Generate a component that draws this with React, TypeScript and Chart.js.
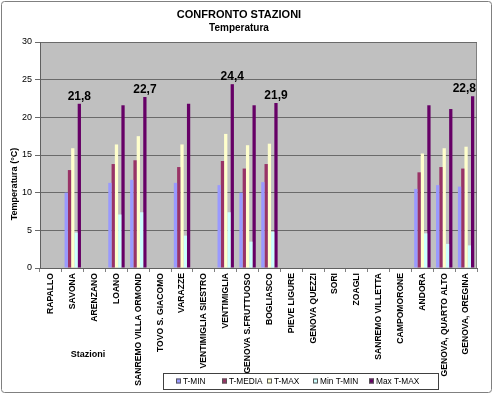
import React, { useEffect, useRef } from "react";
import { Chart, registerables } from "chart.js";

Chart.register(...registerables);

const stations = [
  "RAPALLO", "SAVONA", "ARENZANO", "LOANO", "SANREMO VILLA ORMOND", "TOVO S. GIACOMO",
  "VARAZZE", "VENTIMIGLIA SIESTRO", "VENTIMIGLIA", "GENOVA S.FRUTTUOSO", "BOGLIASCO",
  "PIEVE LIGURE", "GENOVA QUEZZI", "SORI", "ZOAGLI", "SANREMO VILLETTA", "CAMPOMORONE",
  "ANDORA", "GENOVA, QUARTO ALTO", "GENOVA, OREGINA",
];
const tMin = [null, 10.0, null, 11.3, 11.7, null, 11.3, null, 11.0, 10.0, 11.4, null, null, null, null, null, null, 10.5, 11.0, 10.8];
const tMedia = [null, 13.0, null, 13.8, 14.3, null, 13.4, null, 14.2, 13.2, 13.8, null, null, null, null, null, null, 12.7, 13.4, 13.2];
const tMax = [null, 15.9, null, 16.4, 17.5, null, 16.4, null, 17.8, 16.3, 16.5, null, null, null, null, null, null, 15.2, 15.9, 16.1];
const minTMin = [null, 4.7, null, 7.1, 7.4, null, 4.3, null, 7.4, 3.5, 4.8, null, null, null, null, null, null, 4.6, 3.2, 3.0];
const maxTMax = [null, 21.8, null, 21.6, 22.7, null, 21.8, null, 24.4, 21.6, 21.9, null, null, null, null, null, null, 21.6, 21.1, 22.8];
const labeledStations = ["SAVONA", "SANREMO VILLA ORMOND", "VENTIMIGLIA", "BOGLIASCO", "GENOVA, OREGINA"];
const seriesNames = ["T-MIN", "T-MEDIA", "T-MAX", "Min T-MIN", "Max T-MAX"];
const seriesColors = ["#9999FF", "#993366", "#FFFFCC", "#CCFFFF", "#660066"];
const yTicks = [0, 5, 10, 15, 20, 25, 30];

const FONT = "'Liberation Sans', Arial, sans-serif";

const decorPlugin = {
  id: "decor",
  beforeDraw(chart: any) {
    const { ctx, chartArea, width, height } = chart;
    ctx.save();
    ctx.fillStyle = "#FFFFFF";
    ctx.fillRect(0, 0, width, height);
    ctx.fillStyle = "#C0C0C0";
    ctx.fillRect(chartArea.left, chartArea.top, chartArea.right - chartArea.left, chartArea.bottom - chartArea.top);
    ctx.strokeStyle = "#808080";
    ctx.lineWidth = 1;
    ctx.strokeRect(chartArea.left + 0.5, chartArea.top + 0.5, chartArea.right - chartArea.left - 1, chartArea.bottom - chartArea.top);
    ctx.restore();
  },
  afterDraw(chart: any) {
    const { ctx, chartArea, width, height } = chart;
    ctx.save();
    // titles
    ctx.fillStyle = "#000";
    ctx.textAlign = "center";
    ctx.textBaseline = "middle";
    ctx.font = `bold 11px ${FONT}`;
    ctx.fillText("CONFRONTO STAZIONI", 239, 15);
    ctx.font = `bold 10px ${FONT}`;
    ctx.fillText("Temperatura", 239, 28);
    // y title
    ctx.save();
    ctx.translate(15, 184);
    ctx.rotate(-Math.PI / 2);
    ctx.font = `bold 9px ${FONT}`;
    ctx.fillText("Temperatura (°C)", 0, 0);
    ctx.restore();
    // data labels
    const meta = chart.getDatasetMeta(4);
    ctx.font = `bold 12px ${FONT}`;
    ctx.textBaseline = "alphabetic";
    stations.forEach((s, i) => {
      if (!labeledStations.includes(s)) return;
      const v = maxTMax[i];
      if (v == null) return;
      const bar = meta.data[i];
      const txt = v.toFixed(1).replace(".", ",");
      const w = ctx.measureText(txt).width;
      let x = bar.x;
      if (x + w / 2 > chartArea.right - 1) x = chartArea.right - 1 - w / 2;
      ctx.textAlign = "center";
      ctx.fillText(txt, x, bar.y - 4);
    });
    // x axis title
    ctx.font = `bold 9px ${FONT}`;
    ctx.textAlign = "center";
    ctx.textBaseline = "middle";
    ctx.fillText("Stazioni", 88, 355);
    // legend
    const lx = 163, ly = 373, lw = 275, lh = 16;
    ctx.fillStyle = "#FFFFFF";
    ctx.fillRect(lx, ly, lw, lh);
    ctx.strokeStyle = "#404040";
    ctx.lineWidth = 1;
    ctx.strokeRect(lx + 0.5, ly + 0.5, lw, lh);
    const markerX = [176, 222, 267, 313, 369];
    ctx.font = `8.3px ${FONT}`;
    ctx.textAlign = "left";
    ctx.textBaseline = "middle";
    seriesNames.forEach((n, k) => {
      const mx = markerX[k];
      const my = ly + lh / 2 + 0.5;
      ctx.fillStyle = seriesColors[k];
      ctx.fillRect(mx, my - 3, 5, 5);
      ctx.strokeStyle = "#555";
      ctx.strokeRect(mx + 0.5, my - 2.5, 4, 4);
      ctx.fillStyle = "#000";
      ctx.fillText(n, mx + 7, my);
    });
    // outer border
    ctx.strokeStyle = "#808080";
    ctx.lineWidth = 1;
    ctx.beginPath();
    (ctx as any).roundRect(1.5, 1.5, width - 3, height - 3, 3);
    ctx.stroke();
    ctx.restore();
  },
};

export default function App() {
  const ref = useRef<HTMLCanvasElement>(null);
  useEffect(() => {
    if (!ref.current) return;
    const series = [tMin, tMedia, tMax, minTMin, maxTMax];
    const chart = new Chart(ref.current, {
      type: "bar",
      data: {
        labels: stations,
        datasets: series.map((d, k) => ({
          label: seriesNames[k],
          data: d as any,
          backgroundColor: seriesColors[k],
          borderWidth: 0,
          categoryPercentage: 0.75,
          barPercentage: 1.0,
        })),
      },
      options: {
        animation: false,
        responsive: false,
        devicePixelRatio: 1,
        layout: { padding: { top: 42, right: 16, left: 0, bottom: 0 } },
        plugins: {
          legend: { display: false },
          title: { display: false },
          tooltip: { enabled: false },
        },
        scales: {
          x: {
            afterFit(scale: any) {
              scale.height = 126;
            },
            grid: {
              offset: true,
              drawOnChartArea: false,
              drawTicks: true,
              tickLength: 4,
              color: "#808080",
            },
            border: { display: true, color: "#606060", width: 1 },
            ticks: {
              autoSkip: false,
              minRotation: 90,
              maxRotation: 90,
              padding: 1,
              color: "#000",
              font: { family: FONT, size: 8.6, weight: "bold" },
            },
          },
          y: {
            min: 0,
            max: 30,
            afterFit(scale: any) {
              scale.width = 40;
            },
            afterBuildTicks(scale: any) {
              scale.ticks = yTicks.map((v) => ({ value: v }));
            },
            grid: {
              color: "#6A6A6A",
              lineWidth: 1,
              tickLength: 5,
              drawTicks: true,
            },
            border: { display: true, color: "#606060" },
            ticks: {
              padding: 3,
              color: "#000",
              font: { family: FONT, size: 9 },
            },
          },
        },
      },
      plugins: [decorPlugin],
    });
    return () => chart.destroy();
  }, []);
  return (
    <div style={{ position: "absolute", left: 0, top: 0, width: 493, height: 394 }}>
      <canvas ref={ref} width={493} height={394} style={{ width: 493, height: 394, display: "block" }} />
    </div>
  );
}
